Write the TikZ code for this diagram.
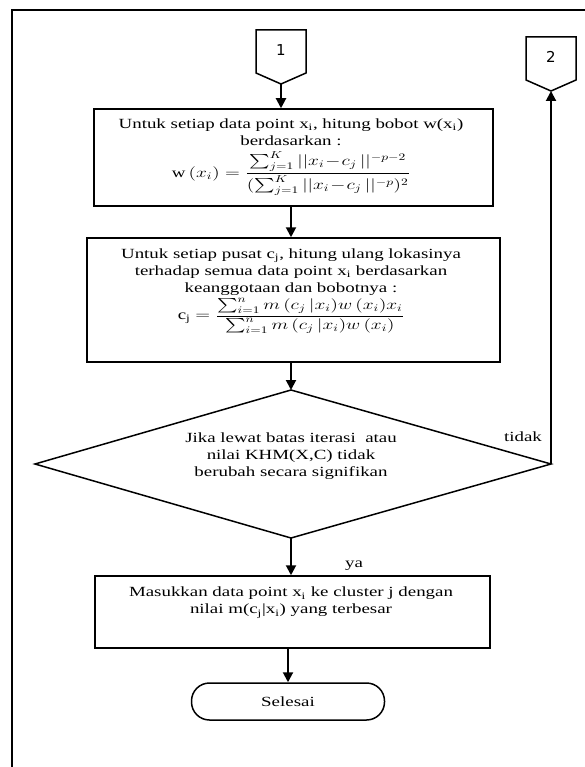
\documentclass[tikz,border=0pt]{standalone}
\usepackage{amsmath}
\usepackage{graphicx}
\usepackage{fontspec}
\setmainfont{Liberation Serif}
\newfontfamily\connfont{DejaVu Sans}
\usetikzlibrary{arrows.meta}
\newcommand{\wtext}[1]{\scalebox{1.35}[1]{\begin{tabular}{@{}c@{}}#1\end{tabular}}}
\tikzset{
  boxline/.style={draw=black, line width=1.5pt},
  procbox/.style={boxline, rectangle, inner sep=0pt},
  txt/.style={font=\fontsize{14}{17}\selectfont, inner sep=0pt},
  arr/.style={line width=2pt, -{Triangle[width=10pt,length=10pt]}},
  connnum/.style={font=\connfont\fontsize{15}{17}\selectfont, inner sep=0pt},
}
\begin{document}
\begin{tikzpicture}[x=1pt, y=-1pt]
\useasboundingbox (0,0) rectangle (585,767);
\clip (0,0) rectangle (585,767);
% outer frame
\draw[line width=1.5pt] (12,10) rectangle (620,800);

% connector 1
\coordinate (c1tip) at (281,84);
\draw[boxline] (256,30) -- (306,30) -- (306,73) -- (c1tip) -- (256,73) -- cycle;
\node[connnum] (c1) at (281,50) {1};

% connector 2
\coordinate (c2tip) at (551,91);
\draw[boxline] (526,37) -- (576,37) -- (576,80) -- (c2tip) -- (526,80) -- cycle;
\node[connnum] (c2) at (551,57) {2};

% box 1
\node[procbox, minimum width=399pt, minimum height=97pt] (b1) at (293.5,157.5) {};
\node[txt] (t1) at (291,156) {\wtext{Untuk setiap data point x\textsubscript{i}, hitung bobot w(x\textsubscript{i})\\
berdasarkan :\\[1pt]
$\text{w}\,(x_i)=\dfrac{\sum_{j=1}^{K}||x_i\!-\!c_j\,||^{-p-2}}{(\sum_{j=1}^{K}||x_i\!-\!c_j\,||^{-p})^2}$}};

% box 2
\node[procbox, minimum width=413pt, minimum height=124pt] (b2) at (293.5,300) {};
\node[txt] (t2) at (291,290) {\wtext{Untuk setiap pusat c\textsubscript{j}, hitung ulang lokasinya\\
terhadap semua data point x\textsubscript{i} berdasarkan\\
keanggotaan dan bobotnya :\\[1pt]
c\textsubscript{j} $=\dfrac{\sum_{i=1}^{n}m\,(c_j\,|x_i)w\,(x_i)x_i}{\sum_{i=1}^{n}m\,(c_j\,|x_i)w\,(x_i)}$}};

% decision
\coordinate (dtop) at (291,390);
\coordinate (dleft) at (35,464);
\coordinate (dright) at (551,464);
\coordinate (dbot) at (291,538);
\draw[boxline, line join=miter] (dtop) -- (dright) -- (dbot) -- (dleft) -- cycle;
\node[txt] (t3) at (291,456) {\wtext{Jika lewat batas iterasi\ \ atau\\ nilai KHM(X,C) tidak\\ berubah secara signifikan}};
\node[txt, anchor=base] (tidak) at (523,441) {\scalebox{1.35}[1]{tidak}};
\node[txt, anchor=base] (ya) at (354,567) {\scalebox{1.35}[1]{ya}};

% box 3
\node[procbox, minimum width=395pt, minimum height=72pt] (b3) at (292.5,612) {};
\node[txt] (t4) at (291,602) {\wtext{Masukkan data point x\textsubscript{i} ke cluster j dengan\\ nilai m(c\textsubscript{j}|x\textsubscript{i}) yang terbesar}};

% terminal
\node[boxline, rectangle, rounded corners=18pt, minimum width=193pt, minimum height=37pt, inner sep=0pt, font=\fontsize{14}{17}\selectfont] (end) at (288,701.5) {\scalebox{1.35}[1]{Selesai}};

% connectors
\draw[arr] (c1tip) -- (c1tip |- b1.north);
\draw[arr] (dtop |- b1.south) -- (dtop |- b2.north);
\draw[arr] (dtop |- b2.south) -- (dtop);
\draw[arr] (dbot) -- (dbot |- b3.north);
\draw[arr] (end.north |- b3.south) -- (end.north);
\draw[arr] (dright) -- (c2tip);
\end{tikzpicture}
\end{document}
